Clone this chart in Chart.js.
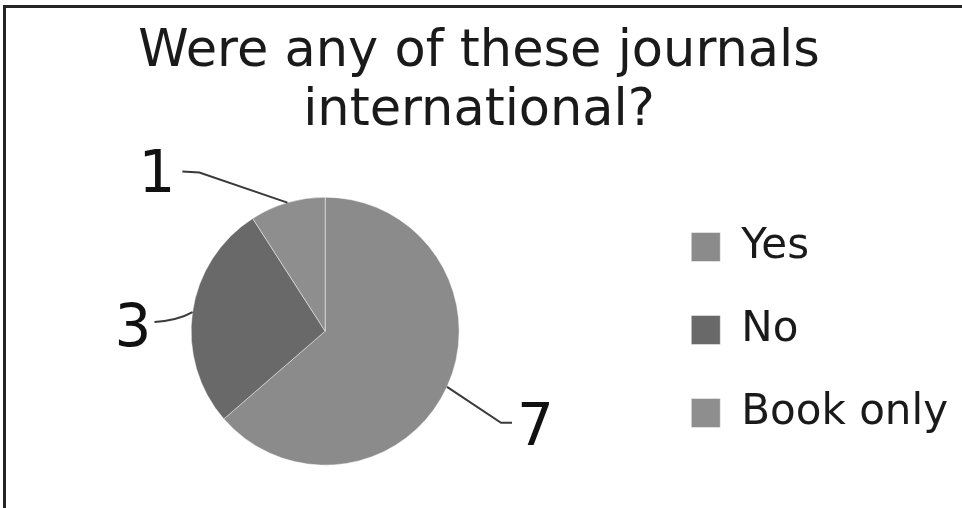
<!DOCTYPE html>
<html>
<head>
<meta charset="utf-8">
<script src="https://cdn.jsdelivr.net/npm/chart.js@4/dist/chart.umd.min.js"></script>
<style>
    html, body { margin: 0; padding: 0; background: #fff; }
    #wrap { position: relative; width: 962px; height: 508px; overflow: hidden; }
    #frame {
        position: absolute; left: 3px; top: 5px; width: 970px; height: 520px;
        border-top: 3px solid #252525; border-left: 3px solid #252525;
        pointer-events: none;
    }
</style>
</head>
<body>
<div id="wrap">
    <canvas id="journals" width="962" height="508"></canvas>
    <div id="frame"></div>
</div>
<script>
const kategori = ['Yes', 'No', 'Book only'];
const jumlah = [7, 3, 1];
const warna = ['#8b8b8b', '#696969', '#8e8e8e'];

// garis penunjuk + angka di luar pie
const labelLuar = {
    id: 'labelLuar',
    afterDatasetsDraw(chart, args, opts) {
        const ctx = chart.ctx;
        const meta = chart.getDatasetMeta(0);
        const data = chart.data.datasets[0].data;
        meta.data.forEach((arc, i) => {
            const p = arc.getProps(['x', 'y', 'startAngle', 'endAngle', 'outerRadius'], true);
            const mid = (p.startAngle + p.endAngle) / 2;
            const ex = p.x + Math.cos(mid) * p.outerRadius;
            const ey = p.y + Math.sin(mid) * p.outerRadius;
            const pos = opts.posisi[i];

            ctx.save();
            ctx.strokeStyle = '#3a3a3a';
            ctx.lineWidth = 2;
            ctx.beginPath();
            ctx.moveTo(ex, ey);
            if (pos.curve) {
                ctx.quadraticCurveTo(ex + pos.curve[0], ey + pos.curve[1], ex + pos.line[0][0], ey + pos.line[0][1]);
            } else {
                pos.line.forEach(pt => ctx.lineTo(ex + pt[0], ey + pt[1]));
            }
            ctx.stroke();

            ctx.fillStyle = '#111';
            ctx.font = '58px "DejaVu Sans"';
            ctx.textAlign = pos.align;
            ctx.textBaseline = 'alphabetic';
            ctx.fillText(String(data[i]), ex + pos.text[0], ey + pos.text[1]);
            ctx.restore();
        });
    }
};

new Chart('journals', {
    type: 'pie',
    data: {
        labels: kategori,
        datasets: [{
            data: jumlah,
            backgroundColor: warna,
            borderColor: 'rgba(255,255,255,0.45)',
            borderWidth: 1,
            radius: 134
        }]
    },
    options: {
        responsive: false,
        animation: false,
        layout: {
            padding: { left: 0, right: 4, top: 0, bottom: 33 }
        },
        plugins: {
            title: {
                display: true,
                text: ['Were any of these journals', 'international?'],
                color: '#1a1a1a',
                font: { family: '"DejaVu Sans"', size: 51, weight: 'normal', lineHeight: 1.16 },
                padding: { top: 23, bottom: 46 }
            },
            legend: {
                position: 'right',
                align: 'end',
                labels: {
                    color: '#1a1a1a',
                    font: { family: '"DejaVu Sans"', size: 42 },
                    boxWidth: 29,
                    boxHeight: 29,
                    padding: 41
                }
            },
            tooltip: { enabled: false },
            labelLuar: {
                posisi: [
                    { line: [[54, 36], [65, 36]], text: [70, 58], align: 'left' },
                    { line: [[-38, 10]], curve: [-14, 8], text: [-41, 34], align: 'right' },
                    { line: [[-88, -30], [-105, -31]], text: [-112, -11], align: 'right' }
                ]
            }
        }
    },
    plugins: [labelLuar]
});
</script>
</body>
</html>
